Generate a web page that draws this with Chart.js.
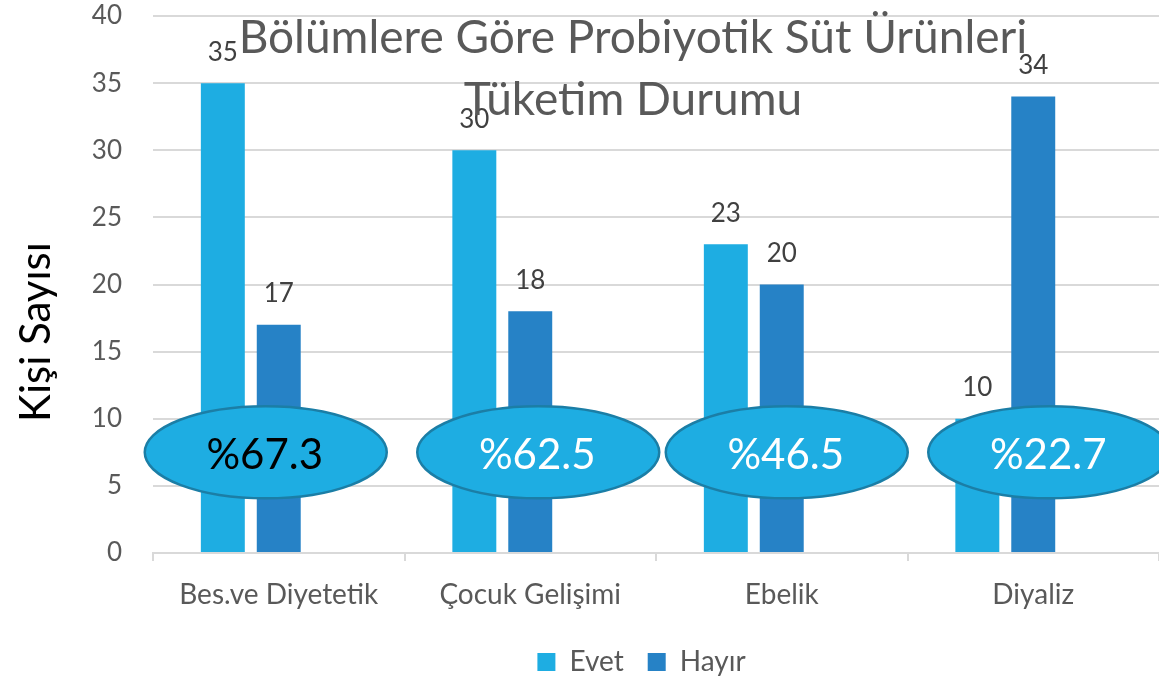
<!DOCTYPE html>
<html>
<head>
<meta charset="utf-8">
<script src="https://cdn.jsdelivr.net/npm/chart.js@4.4.1/dist/chart.umd.min.js"></script>
<style>
html,body{margin:0;padding:0;background:#fff;}
#wrap{width:1159px;height:683px;position:relative;}
</style>
</head>
<body>
<div id="wrap"><canvas id="c" width="1159" height="683"></canvas></div>
<script>
const categories = ['Bes.ve Diyetetik', 'Çocuk Gelişimi', 'Ebelik', 'Diyaliz'];
const evetValues = [35, 30, 23, 10];
const hayirValues = [17, 18, 20, 34];
const percentLabels = ['%67.3', '%62.5', '%46.5', '%22.7'];
const percentTextColors = ['#000000', '#ffffff', '#ffffff', '#ffffff'];
const titleLines = ['Bölümlere Göre Probiyotik Süt Ürünleri', 'Tüketim Durumu'];
const yAxisTitle = 'Kişi Sayısı';
const seriesNames = ['Evet', 'Hayır'];

const FONT = 'Lato, "Open Sans", sans-serif';

const overlayPlugin = {
  id: 'overlay',
  afterLayout(chart) {
    const lg = chart.legend;
    if (lg) {
      lg.left += 62; lg.right += 62;
      lg.top += 3; lg.bottom += 3;
    }
  },
  afterDatasetsDraw(chart) {
    const ctx = chart.ctx;
    const xs = chart.scales.x, ys = chart.scales.y;
    // data labels
    ctx.save();
    ctx.font = '26px ' + FONT;
    ctx.fillStyle = '#404040';
    ctx.textAlign = 'center';
    ctx.textBaseline = 'middle';
    [0, 1].forEach(di => {
      const meta = chart.getDatasetMeta(di);
      meta.data.forEach((bar, i) => {
        const v = chart.data.datasets[di].data[i];
        ctx.fillText(String(v), bar.x, bar.y - 31);
      });
    });
    ctx.restore();
    // ellipses
    const offs = [-13, 8, 5, 16];
    ctx.save();
    categories.forEach((c, i) => {
      const cx = xs.getPixelForValue(i) + offs[i];
      const cy = ys.getPixelForValue(7.5);
      ctx.beginPath();
      ctx.ellipse(cx, cy, 121, 46, 0, 0, Math.PI * 2);
      ctx.fillStyle = '#1EADE2';
      ctx.fill();
      ctx.lineWidth = 2.5;
      ctx.strokeStyle = '#1B7EA6';
      ctx.stroke();
      ctx.font = '42px ' + FONT;
      ctx.fillStyle = percentTextColors[i];
      ctx.textAlign = 'center';
      ctx.textBaseline = 'middle';
      ctx.fillText(percentLabels[i], cx - 1, cy + 3);
    });
    ctx.restore();
  },
  afterDraw(chart) {
    const ctx = chart.ctx;
    ctx.save();
    ctx.font = '46px ' + FONT;
    ctx.fillStyle = '#595959';
    ctx.textAlign = 'center';
    ctx.textBaseline = 'middle';
    ctx.fillText(titleLines[0], 633, 38);
    ctx.fillText(titleLines[1], 633, 100);
    ctx.restore();
    // y axis title
    ctx.save();
    ctx.translate(50, 332);
    ctx.rotate(-Math.PI / 2);
    ctx.font = '42px ' + FONT;
    ctx.fillStyle = '#000000';
    ctx.textAlign = 'center';
    ctx.textBaseline = 'alphabetic';
    ctx.fillText(yAxisTitle, 0, 0);
    ctx.restore();
  }
};

new Chart(document.getElementById('c'), {
  type: 'bar',
  data: {
    labels: categories,
    datasets: [
      { label: seriesNames[0], data: evetValues, backgroundColor: '#1EADE2', barPercentage: 0.786, categoryPercentage: 0.667 },
      { label: seriesNames[1], data: hayirValues, backgroundColor: '#2682C6', barPercentage: 0.786, categoryPercentage: 0.667 },
      { label: '_spacer', data: [null, null, null, null], backgroundColor: 'rgba(0,0,0,0)', barPercentage: 0.786, categoryPercentage: 0.667 }
    ]
  },
  options: {
    responsive: false,
    animation: false,
    layout: { padding: { top: 16, right: 0, left: 0, bottom: 0 } },
    plugins: {
      legend: {
        position: 'bottom',
        labels: {
          filter: item => item.text !== '_spacer',
          boxWidth: 18, boxHeight: 18,
          color: '#595959',
          font: { family: FONT, size: 28 },
          padding: 24
        }
      },
      tooltip: { enabled: false },
      title: { display: false }
    },
    scales: {
      x: {
        grid: { display: true, drawOnChartArea: false, offset: true, tickLength: 8, color: '#D9D9D9', lineWidth: 2 },
        border: { display: true, color: '#D9D9D9', width: 2 },
        ticks: { color: '#595959', font: { family: FONT, size: 28 }, padding: 17, maxRotation: 0 },
        afterFit(scale) { scale.height = 68; scale.paddingLeft = 0; scale.paddingRight = 0; }
      },
      y: {
        min: 0, max: 40,
        ticks: { stepSize: 5, color: '#595959', font: { family: FONT, size: 26 }, padding: 31 },
        grid: { color: '#D9D9D9', lineWidth: 2, drawTicks: false },
        border: { display: false },
        title: { display: false },
        afterFit(scale) { scale.width = 153; scale.paddingTop = 0; scale.paddingBottom = 0; }
      }
    }
  },
  plugins: [overlayPlugin]
});
</script>
</body>
</html>
